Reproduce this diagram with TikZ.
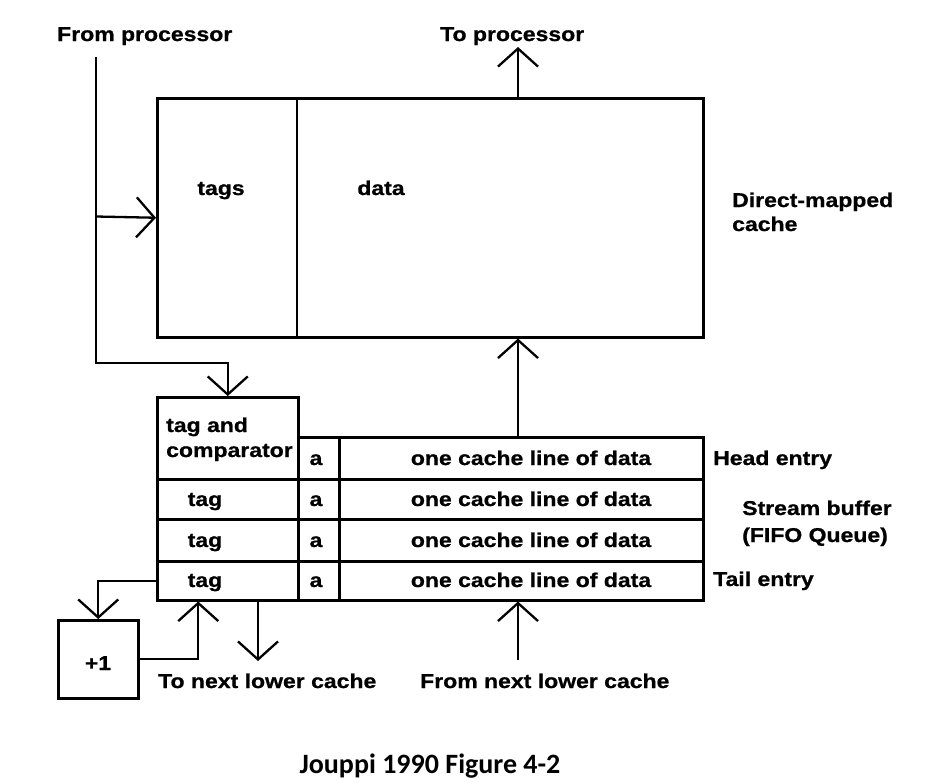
\documentclass[tikz,border=0pt]{standalone}
\usepackage{fontspec}
\usetikzlibrary{arrows.meta}
\newfontfamily\labf{Liberation Sans}[FakeStretch=1.15, BoldFeatures={FakeBold=0.8}]
\newfontfamily\capf{Carlito}
\begin{document}
\begin{tikzpicture}[x=1pt,y=-1pt,
  cell/.style={draw, line width=2.5pt, inner sep=0pt, anchor=north west},
  lab/.style={font=\labf\bfseries\fontsize{20}{24}\selectfont, inner sep=0pt},
  conn/.style={line width=2.5pt},
  arr/.style={line width=2.3pt, -{Straight Barb[length=18pt,width=40pt]}}]
\useasboundingbox[fill=white] (0,0) rectangle (925,782);

% direct-mapped cache
\node[cell, minimum width=546pt, minimum height=239pt] (cache) at (156,97) {};
\draw[conn] ([xshift=141pt]cache.north west) -- ([xshift=141pt]cache.south west);
\node[lab, anchor=base] (tags) at (221,195) {tags};
\node[lab, anchor=base] (data) at (381,195) {data};
\node[lab, anchor=base west] (dm1) at (732,207) {Direct-mapped};
\node[lab, anchor=base west] (dm2) at (732,231) {cache};

% stream buffer
\node[cell, minimum width=141pt, minimum height=82pt] (tc) at (156,396) {};
\node[cell, minimum width=41pt, minimum height=42pt] (a1) at (297,436) {};
\node[cell, minimum width=364pt, minimum height=42pt] (d1) at (338,436) {};
\node[cell, minimum width=141pt, minimum height=40pt] (t2) at (156,478) {};
\node[cell, minimum width=41pt, minimum height=40pt] (a2) at (297,478) {};
\node[cell, minimum width=364pt, minimum height=40pt] (d2) at (338,478) {};
\node[cell, minimum width=141pt, minimum height=42pt] (t3) at (156,518) {};
\node[cell, minimum width=41pt, minimum height=42pt] (a3) at (297,518) {};
\node[cell, minimum width=364pt, minimum height=42pt] (d3) at (338,518) {};
\node[cell, minimum width=141pt, minimum height=39pt] (t4) at (156,560) {};
\node[cell, minimum width=41pt, minimum height=39pt] (a4) at (297,560) {};
\node[cell, minimum width=364pt, minimum height=39pt] (d4) at (338,560) {};

\node[lab, anchor=base west] (tc1) at (166,432) {tag and};
\node[lab, anchor=base west] (tc2) at (166,457) {comparator};
\foreach \r/\b in {1/465,2/506,3/547,4/587}{
  \node[lab, anchor=base] (al\r) at (316,\b) {a};
  \node[lab, anchor=base] (dl\r) at (531,\b) {one cache line of data};
}
\foreach \r/\b in {2/506,3/547,4/587}{
  \node[lab, anchor=base] (tl\r) at (205,\b) {tag};
}
\node[lab, anchor=base west] (head) at (713,465) {Head entry};
\node[lab, anchor=base west] (sb1) at (742,515) {Stream buffer};
\node[lab, anchor=base west] (sb2) at (742,542) {(FIFO Queue)};
\node[lab, anchor=base west] (tail) at (713,586) {Tail entry};

% +1 box
\node[cell, minimum width=80pt, minimum height=78pt] (inc) at (57,619) {};
\node[lab, anchor=base] (incl) at (98,670) {+1};

% top and bottom labels
\node[lab, anchor=base west] (fpl) at (57,41) {From processor};
\node[lab, anchor=base west] (tpl) at (440,41) {To processor};
\node[lab, anchor=base west] (tnll) at (158,688) {To next lower cache};
\node[lab, anchor=base west] (fnll) at (420,688) {From next lower cache};

% coordinates for free ends
\coordinate (fp) at (96,57);
\coordinate (br) at (96,216.5);
\coordinate (bend) at (96,363);
\coordinate (tp) at (518,47);
\coordinate (fnl) at (518,660);
\coordinate (tnl) at (258,661);

% connectors
\draw[arr] (fp) -- (bend) -| (tc.north);
\draw[arr] (br) -- (cache.west);
\draw[arr] (cache.north -| tp) -- (tp);
\draw[arr] (d1.north -| tp) -- (cache.south -| tp);
\draw[arr] (fnl) -- (d4.south -| fnl);
\draw[arr] (t4.south -| tnl) -- (tnl);
\draw[arr] (t4.west) -| (inc.north);
\draw[arr] (inc.east) -| ([xshift=-29.5pt]t4.south);

% caption
\node[font=\capf\bfseries\fontsize{28}{30}\selectfont, inner sep=0pt, anchor=base] (cap) at (430,773) {Jouppi 1990 Figure 4-2};
\end{tikzpicture}
\end{document}
